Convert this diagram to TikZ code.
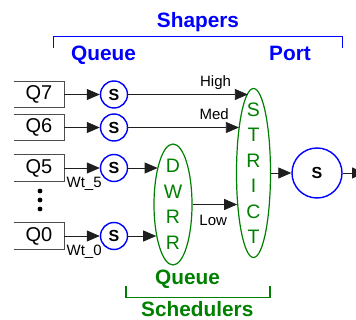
\documentclass[tikz,border=0pt]{standalone}
\usepackage{fontspec}
\setmainfont{Liberation Sans}
\usetikzlibrary{arrows.meta,positioning,shapes.geometric}
\definecolor{shaperBlue}{RGB}{0,0,255}
\definecolor{schedGreen}{RGB}{0,128,0}
\definecolor{linkGray}{RGB}{30,30,30}
\begin{document}
\begin{tikzpicture}[x=1pt,y=-1pt,
  qbox/.style={minimum width=50pt, minimum height=26pt, inner sep=0pt, font=\fontsize{20}{20}\selectfont},
  shaper/.style={circle, draw=shaperBlue, line width=1.4pt, inner sep=0pt, minimum size=27pt, font=\bfseries\fontsize{16}{16}\selectfont},
  sched/.style={ellipse, draw=schedGreen, line width=1.2pt, inner sep=0pt},
  schedtxt/.style={text=schedGreen, align=center, inner sep=0pt, font=\fontsize{19.5}{25.5}\selectfont},
  flow/.style={draw=linkGray, line width=0.8pt, -{Triangle[length=13pt,width=11pt]}},
  lbl/.style={inner sep=0pt, font=\fontsize{15}{15}\selectfont},
  title/.style={font=\bfseries\fontsize{20.8}{20.8}\selectfont, anchor=base, inner sep=0pt}]
\useasboundingbox (0,0) rectangle (356,320);

\foreach \q/\y in {7/94.5,6/127.5,5/168,0/236}{
  \node[qbox] (q\q) at (39,\y) {Q\q};
  \draw[black!70, line width=0.8pt] (q\q.north west) -- (q\q.north east) -- (q\q.south east) -- (q\q.south west);
  \node[shaper] (s\q) at (114,\y) {S};
}
\foreach \d in {191,200,209}
  \fill (40,\d) circle (2.4pt);

\draw[flow] (q7.east) -- (s7.west);
\draw[flow] (q6.east) -- (s6.west);
\draw[flow] (q5.east) -- (s5.west) node[lbl, pos=0, anchor=north west, xshift=2pt, yshift=-9pt] (wt5) {Wt\_5};
\draw[flow] (q0.east) -- (s0.west) node[lbl, pos=0, anchor=north west, xshift=2pt, yshift=-9pt] (wt0) {Wt\_0};

\node[sched, minimum width=38pt, minimum height=121pt] (dwrr) at (173,204.5) {};
\node[schedtxt] (dwrrTxt) at (dwrr.center) {D\\W\\R\\R};
\node[sched, minimum width=34pt, minimum height=169pt] (strict) at (253.5,173) {};
\node[schedtxt] (strictTxt) at (strict.center) {S\\T\\R\\I\\C\\T};

\draw[flow] (s5.east) -- (s5.east -| dwrr.112.5);
\draw[flow] (s0.east) -- (s0.east -| dwrr.242.8);
\draw[flow] (s7.east) -- (s7.east -| strict.94.6) node[lbl, pos=0.598, anchor=base west, yshift=8pt] (hiLbl) {High};
\draw[flow] (s6.east) -- (s6.east -| strict.107.4) node[lbl, pos=0.641, anchor=base west, yshift=8pt] (medLbl) {Med};
\draw[flow] (dwrr.east) -- (dwrr.east -| strict.243.4) node[lbl, pos=0.144, anchor=north west, yshift=-10.5pt] (lowLbl) {Low};

\node[shaper, minimum size=50pt] (sPort) at (317,173) {S};
\draw[flow] (strict.east) -- (sPort.west);
\coordinate (egress) at (365,173);
\draw[flow] (sPort.east) -- (egress);

\node[title, text=shaperBlue] (shapers) at (198,27.3) {Shapers};
\node[title, text=shaperBlue] (qShaper) at (103.5,61) {Queue};
\node[title, text=shaperBlue] (pShaper) at (290,61) {Port};
\draw[shaperBlue, line width=1.3pt] (53.3,48.3) |- (342.3,36.7) -- (342.3,48.3);
\node[title, text=schedGreen] (qSched) at (187.5,285) {Queue};
\draw[schedGreen, line width=1.2pt] (126,286) |- (270,297.7) -- (270,286);
\node[title, text=schedGreen] (schedulers) at (197.3,316.8) {Schedulers};
\end{tikzpicture}
\end{document}
